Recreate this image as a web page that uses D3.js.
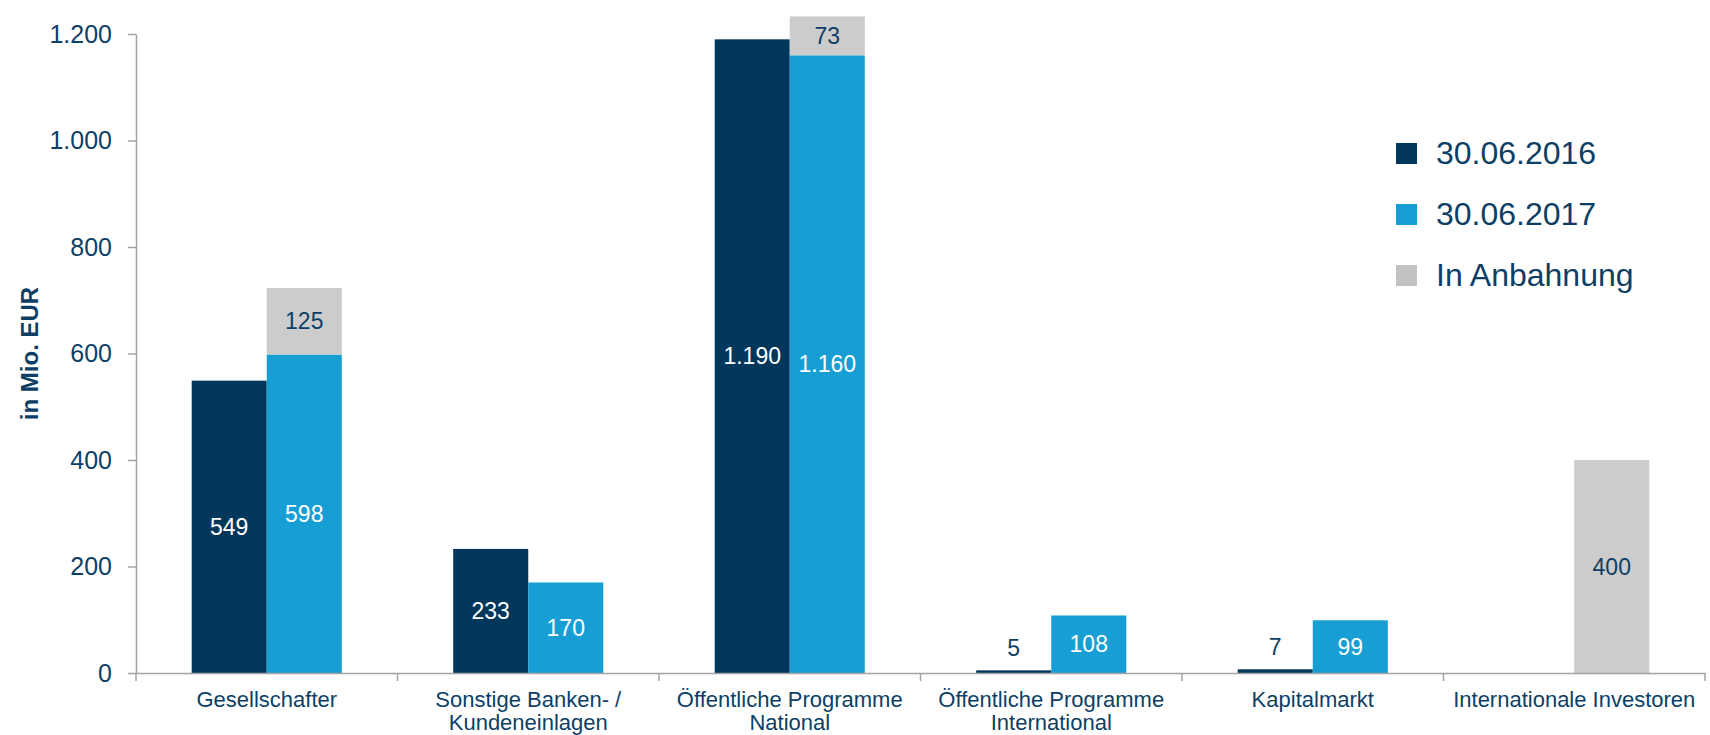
<!DOCTYPE html>
<html lang="de">
<head>
<meta charset="utf-8">
<script src="https://cdn.jsdelivr.net/npm/d3@7"></script>
<style>
  html, body { margin: 0; padding: 0; background: #fff; }
  svg { display: block; font-family: "Liberation Sans", Arial, sans-serif; }
</style>
</head>
<body>
<svg id="chart" width="1710" height="735"></svg>
<script>
// Finanzierungsquellen in Mio. EUR
const categories = [
  "Gesellschafter",
  "Sonstige Banken- / Kundeneinlagen",
  "Öffentliche Programme National",
  "Öffentliche Programme International",
  "Kapitalmarkt",
  "Internationale Investoren"
];
const categoryLines = [
  ["Gesellschafter"],
  ["Sonstige Banken- /", "Kundeneinlagen"],
  ["Öffentliche Programme", "National"],
  ["Öffentliche Programme", "International"],
  ["Kapitalmarkt"],
  ["Internationale Investoren"]
];
const values2016 = [549, 233, 1190, 5, 7, null];
const values2017 = [598, 170, 1160, 108, 99, null];
const valuesPending = [125, null, 73, null, null, 400];
const seriesNames = ["30.06.2016", "30.06.2017", "In Anbahnung"];
const yTicks = [0, 200, 400, 600, 800, 1000, 1200];
const yTitle = "in Mio. EUR";

const colors = { d2016: "#02375c", d2017: "#179fd5", pending: "#cccccc", legendPending: "#c2c2c2" };
const textColor = "#0d3f66";
const axisColor = "#a3a3a3";

const de = d3.formatLocale({ decimal: ",", thousands: ".", grouping: [3], currency: ["", " €"] });
const fmt = de.format(",d");

const svg = d3.select("#chart");
const plot = { left: 136, right: 1705, top: 34, bottom: 673 };

const x = d3.scaleBand().domain(categories).range([plot.left, plot.right]).paddingInner(0).paddingOuter(0);
const y = d3.scaleLinear().domain([0, 1200]).range([plot.bottom, plot.top]);
const barW = x.bandwidth() * 0.287;
const xInner = d3.scaleBand().domain(["2016", "2017"]).range([0, barW * 2]);

// Balken-Daten
const rows = categories.map((c, i) => ({
  cat: c, v16: values2016[i], v17: values2017[i], pend: valuesPending[i]
}));

const g = svg.append("g");

function groupX(cat) { return x(cat) + (x.bandwidth() - barW * 2) / 2; }

// 30.06.2016
g.selectAll("rect.b16").data(rows.filter(d => d.v16 != null)).join("rect")
  .attr("class", "b16")
  .attr("x", d => groupX(d.cat) + xInner("2016"))
  .attr("width", xInner.bandwidth())
  .attr("y", d => y(d.v16))
  .attr("height", d => y(0) - y(d.v16))
  .attr("fill", colors.d2016);

// 30.06.2017
g.selectAll("rect.b17").data(rows.filter(d => d.v17 != null)).join("rect")
  .attr("class", "b17")
  .attr("x", d => groupX(d.cat) + xInner("2017"))
  .attr("width", xInner.bandwidth())
  .attr("y", d => y(d.v17))
  .attr("height", d => y(0) - y(d.v17))
  .attr("fill", colors.d2017);

// In Anbahnung, gestapelt auf 30.06.2017
g.selectAll("rect.bp").data(rows.filter(d => d.pend != null)).join("rect")
  .attr("class", "bp")
  .attr("x", d => groupX(d.cat) + xInner("2017"))
  .attr("width", xInner.bandwidth())
  .attr("y", d => y((d.v17 || 0) + d.pend))
  .attr("height", d => y(d.v17 || 0) - y((d.v17 || 0) + d.pend))
  .attr("fill", colors.pending);

// Wertbeschriftungen
const labels = [];
rows.forEach(d => {
  const xc16 = groupX(d.cat) + xInner("2016") + xInner.bandwidth() / 2;
  const xc17 = groupX(d.cat) + xInner("2017") + xInner.bandwidth() / 2;
  if (d.v16 != null) {
    const h = y(0) - y(d.v16);
    if (h < 30) labels.push({ x: xc16, y: y(d.v16) - 22, t: fmt(d.v16), c: textColor });
    else labels.push({ x: xc16, y: (y(0) + y(d.v16)) / 2, t: fmt(d.v16), c: "#fff" });
  }
  if (d.v17 != null) {
    const h = y(0) - y(d.v17);
    if (h < 30) labels.push({ x: xc17, y: y(d.v17) - 22, t: fmt(d.v17), c: textColor });
    else labels.push({ x: xc17, y: (y(0) + y(d.v17)) / 2, t: fmt(d.v17), c: "#fff" });
  }
  if (d.pend != null) {
    const base = d.v17 || 0;
    labels.push({ x: xc17, y: (y(base) + y(base + d.pend)) / 2, t: fmt(d.pend), c: textColor });
  }
});
g.selectAll("text.val").data(labels).join("text")
  .attr("class", "val")
  .attr("x", d => d.x)
  .attr("y", d => d.y)
  .attr("text-anchor", "middle")
  .attr("dominant-baseline", "central")
  .attr("font-size", 23)
  .attr("fill", d => d.c)
  .text(d => d.t);

// Y-Achse
const yAxis = svg.append("g")
  .attr("transform", `translate(${plot.left},0)`)
  .call(d3.axisLeft(y).tickValues(yTicks).tickFormat(fmt).tickSize(8).tickSizeOuter(0).tickPadding(16));
yAxis.select(".domain").attr("stroke", axisColor).attr("stroke-width", 1.5);
yAxis.selectAll(".tick line").attr("stroke", axisColor).attr("stroke-width", 1.5);
yAxis.selectAll(".tick text")
  .attr("font-size", 25).attr("fill", textColor)
  .attr("font-family", "Liberation Sans, Arial, sans-serif");

// X-Achse
const xAxis = svg.append("g")
  .attr("transform", `translate(0,${plot.bottom})`)
  .call(d3.axisBottom(x).tickSize(0).tickSizeOuter(0).tickFormat(""));
xAxis.select(".domain").attr("stroke", axisColor).attr("stroke-width", 1.5);

// Trennstriche zwischen den Kategorien
const edges = categories.map(c => x(c)).concat([x.range()[1]]);
xAxis.selectAll("line.sep").data(edges).join("line")
  .attr("class", "sep")
  .attr("x1", d => d).attr("x2", d => d)
  .attr("y1", 0).attr("y2", 8)
  .attr("stroke", axisColor).attr("stroke-width", 1.5);

// Kategorienbeschriftungen
xAxis.selectAll("g.tick").each(function(cat) {
  const i = categories.indexOf(cat);
  const t = d3.select(this).append("text")
    .attr("y", 34)
    .attr("text-anchor", "middle")
    .attr("font-size", 22)
    .attr("fill", textColor)
    .attr("font-family", "Liberation Sans, Arial, sans-serif");
  categoryLines[i].forEach((line, k) => {
    t.append("tspan").attr("x", 0).attr("dy", k === 0 ? 0 : 23).text(line);
  });
});

// Achsentitel
svg.append("text")
  .attr("transform", `translate(38,${(plot.top + plot.bottom) / 2}) rotate(-90)`)
  .attr("text-anchor", "middle")
  .attr("font-size", 24)
  .attr("font-weight", "bold")
  .attr("fill", textColor)
  .text(yTitle);

// Legende
const legendColors = [colors.d2016, colors.d2017, colors.legendPending];
const legend = svg.append("g").attr("transform", "translate(1396,143)");
const li = legend.selectAll("g").data(seriesNames).join("g")
  .attr("transform", (d, i) => `translate(0,${i * 61})`);
li.append("rect").attr("width", 21).attr("height", 21).attr("fill", (d, i) => legendColors[i]);
li.append("text")
  .attr("x", 40).attr("y", 21)
  .attr("font-size", 32)
  .attr("fill", textColor)
  .text(d => d);
</script>
</body>
</html>
